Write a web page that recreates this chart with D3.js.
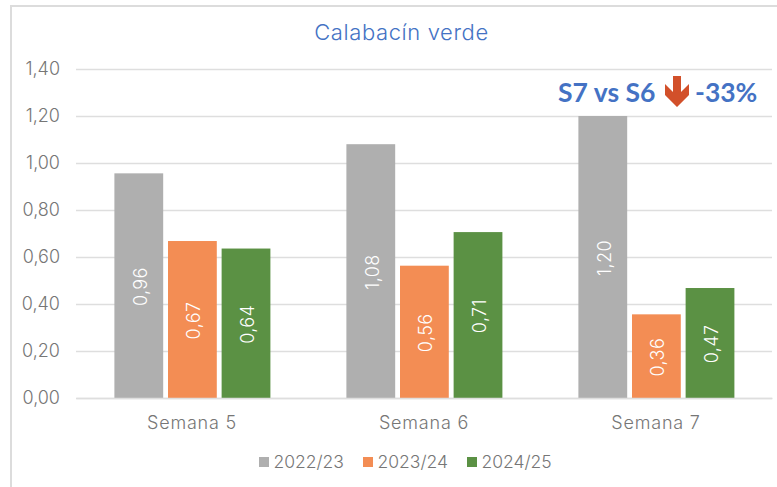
<!DOCTYPE html>
<html>
<head>
<meta charset="utf-8">
<script src="https://cdn.jsdelivr.net/npm/d3@7"></script>
<style>
  html, body { margin: 0; padding: 0; background: #fff; }
  text { font-family: Inter, sans-serif; font-weight: 300; }
</style>
</head>
<body>
<div id="chart"></div>
<script>
const weeks = ["Semana 5", "Semana 6", "Semana 7"];
const seasons = ["2022/23", "2023/24", "2024/25"];
const colors = ["#afafaf", "#f38d54", "#5b9144"];
const values2223 = [0.956, 1.08, 1.20];
const values2324 = [0.668, 0.563, 0.356];
const values2425 = [0.636, 0.706, 0.468];
const yTicks = [0, 0.2, 0.4, 0.6, 0.8, 1.0, 1.2, 1.4];

const width = 777;
const height = 487;
const margin = { top: 69, right: 5, bottom: 89, left: 76 };
const innerWidth = width - margin.left - margin.right;
const innerHeight = height - margin.top - margin.bottom;
const fmt = d => d.toFixed(2).replace(".", ",");

const svg = d3.select("#chart").append("svg")
    .attr("width", width).attr("height", height)
    .style("display", "block");

// marco del gráfico
svg.append("path").attr("d", `M11,${height} V6 H${width}`)
    .attr("fill", "none").attr("stroke", "#dcdcdc").attr("stroke-width", 2);

svg.append("text").attr("x", 401.5).attr("y", 40).attr("text-anchor", "middle")
    .attr("fill", "#4472c4").style("font-size", "22px").style("letter-spacing", "0.6px")
    .text("Calabacín verde");

const g = svg.append("g").attr("transform", `translate(${margin.left},${margin.top})`);

const x0 = d3.scaleBand().domain(weeks).range([0, innerWidth]);
const x1 = d3.scaleBand().domain(seasons).range([38.4, 194.4]).paddingInner(0.09);
const y = d3.scaleLinear().domain([0, 1.4]).range([innerHeight, 0]);

// rejilla
g.append("g").call(d3.axisLeft(y).tickValues(yTicks).tickSize(-innerWidth).tickFormat(fmt))
    .call(a => a.select(".domain").remove())
    .call(a => a.selectAll(".tick line").attr("stroke", "#dedede").attr("stroke-width", 1.5))
    .call(a => a.selectAll(".tick text").attr("x", -16).attr("fill", "#767676").style("font-size", "18px").style("font-family", "Inter, sans-serif"));

const series = [values2223, values2324, values2425];
series.forEach((vals, s) => {
    const bars = g.append("g");
    bars.selectAll("rect").data(vals).join("rect")
        .attr("x", (d, i) => x0(weeks[i]) + x1(seasons[s]))
        .attr("y", d => y(d))
        .attr("width", x1.bandwidth())
        .attr("height", d => innerHeight - y(d))
        .attr("fill", colors[s]);
    bars.selectAll("text").data(vals).join("text")
        .attr("transform", (d, i) => `translate(${x0(weeks[i]) + x1(seasons[s]) + x1.bandwidth() / 2 + 8},${(y(d) + innerHeight) / 2 + 1}) rotate(-90)`)
        .attr("text-anchor", "middle")
        .attr("fill", "#fff").style("font-size", "18px").style("letter-spacing", "0.4px")
        .text(fmt);
});

// eje de categorías
g.append("g").attr("transform", `translate(0,${innerHeight})`)
    .call(d3.axisBottom(x0).tickSize(0))
    .call(a => a.select(".domain").attr("stroke", "#dedede").attr("stroke-width", 1.5))
    .call(a => a.selectAll(".tick text").attr("y", 18).attr("fill", "#767676").style("font-size", "18px").style("letter-spacing", "0.8px").style("font-family", "Inter, sans-serif"));

// leyenda
const legX = [259, 363, 467];
seasons.forEach((s, i) => {
    svg.append("rect").attr("x", legX[i]).attr("y", 457).attr("width", 10).attr("height", 10).attr("fill", colors[i]);
    svg.append("text").attr("x", legX[i] + 14.5).attr("y", 468)
        .attr("fill", "#767676").style("font-size", "17.5px").text(s);
});

// anotación S7 vs S6
const note = svg.append("g").attr("fill", "#4472c4");
note.append("text").attr("x", 558).attr("y", 102).style("font-family", "Lato, sans-serif").style("font-size", "26.5px").style("font-weight", 700).text("S7 vs S6");
note.append("text").attr("x", 695).attr("y", 102).style("font-family", "Lato, sans-serif").style("font-size", "26.5px").style("font-weight", 700).text("-33%");
svg.append("path")
    .attr("d", "M673,76 H681 V92 L689,84 V95 L677,107 L665,95 V84 L673,92 Z")
    .attr("fill", "#d2502a");
</script>
</body>
</html>
